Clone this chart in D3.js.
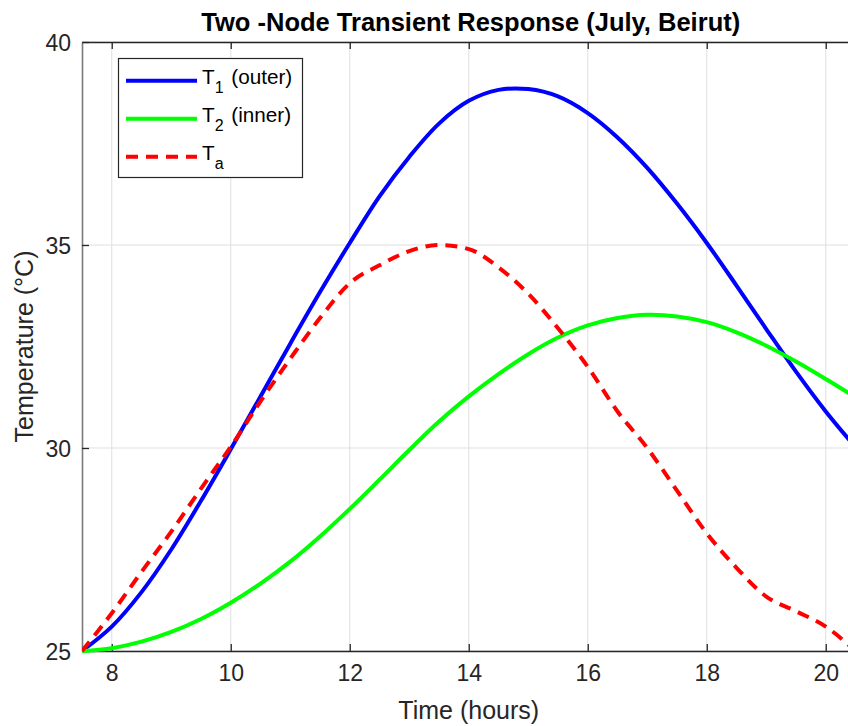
<!DOCTYPE html>
<html>
<head>
<meta charset="utf-8">
<script src="https://cdnjs.cloudflare.com/ajax/libs/d3/7.8.5/d3.min.js"></script>
<style>
  body { margin: 0; background: #fff; }
  svg { display: block; font-family: "Liberation Sans", Arial, sans-serif; }
</style>
</head>
<body>
<div id="root"></div>
<script>
// time axis (hours)
const hours = [7.5, 8, 8.5, 9, 9.5, 10, 10.5, 11, 11.5, 12, 12.5, 13, 13.5, 14,
  14.5, 15, 15.5, 16, 16.5, 17, 17.5, 18, 18.5, 19, 19.5, 20, 20.5];

// outer node temperature T1
const t1 = [25.0, 25.6, 26.45, 27.5, 28.7, 29.97, 31.27, 32.57, 33.84, 35.05, 36.2,
  37.17, 37.99, 38.55, 38.82, 38.84, 38.66, 38.25, 37.65, 36.9, 36.02, 35.05, 34.0,
  32.93, 31.88, 30.9, 30.02];

// inner node temperature T2
const t2 = [25.0, 25.07, 25.23, 25.47, 25.79, 26.19, 26.66, 27.2, 27.82, 28.5,
  29.22, 29.95, 30.65, 31.27, 31.82, 32.31, 32.72, 33.02, 33.2, 33.28, 33.24, 33.1,
  32.85, 32.52, 32.13, 31.7, 31.25];

// ambient temperature Ta
const ta = [25.0, 25.93, 26.95, 27.94, 29.0, 30.03, 31.15, 32.2, 33.2, 34.06, 34.5,
  34.85, 35.0, 34.9, 34.45, 33.8, 32.95, 32.0, 30.9, 30.0, 28.95, 27.9, 27.05, 26.34,
  25.98, 25.6, 25.0];

const xTicks = [8, 10, 12, 14, 16, 18, 20];
const yTicks = [25, 30, 35, 40];

// set the dimensions of the axes box
const W = 848, H = 726;
const box = { left: 82, top: 42, right: 855.5, bottom: 651 };
const ink = "#262626";

const x = d3.scaleLinear().domain([7.5, 20.5]).range([box.left, box.right]);
const y = d3.scaleLinear().domain([25, 40]).range([box.bottom, box.top]);

const svg = d3.select("#root").append("svg")
  .attr("width", W)
  .attr("height", H);

svg.append("defs").append("clipPath").attr("id", "plot")
  .append("rect")
  .attr("x", box.left).attr("y", box.top - 3)
  .attr("width", box.right - box.left).attr("height", box.bottom - box.top + 6);

// grid lines
const grid = svg.append("g").attr("stroke", "#dfdfdf").attr("stroke-width", 1);
grid.selectAll(".gx").data(xTicks).join("line")
  .attr("x1", (d) => x(d)).attr("x2", (d) => x(d))
  .attr("y1", box.top).attr("y2", box.bottom);
grid.selectAll(".gy").data(yTicks).join("line")
  .attr("x1", box.left).attr("x2", box.right)
  .attr("y1", (d) => y(d)).attr("y2", (d) => y(d));

// axes (inside ticks on all four sides, like matlab's box)
const axB = svg.append("g")
  .attr("transform", "translate(0," + box.bottom + ")")
  .call(d3.axisBottom(x).tickValues(xTicks).tickSizeInner(-7).tickSizeOuter(0).tickPadding(14));
const axT = svg.append("g")
  .attr("transform", "translate(0," + box.top + ")")
  .call(d3.axisTop(x).tickValues(xTicks).tickSizeInner(-7).tickSizeOuter(0).tickFormat(""));
const axL = svg.append("g")
  .attr("transform", "translate(" + box.left + ",0)")
  .call(d3.axisLeft(y).tickValues(yTicks).tickSizeInner(-7).tickSizeOuter(0).tickPadding(11));
const axR = svg.append("g")
  .attr("transform", "translate(" + box.right + ",0)")
  .call(d3.axisRight(y).tickValues(yTicks).tickSizeInner(-7).tickSizeOuter(0).tickFormat(""));

[axB, axT, axL, axR].forEach((a) => {
  a.select(".domain").attr("stroke", ink).attr("stroke-width", 1.3);
  a.selectAll(".tick line").attr("stroke", ink).attr("stroke-width", 1.3);
  a.selectAll(".tick text").attr("fill", ink).attr("font-size", 23)
    .attr("font-family", "Liberation Sans, Arial, sans-serif");
});
axL.select(".domain").attr("stroke", "#7a7a7a").attr("stroke-width", 1.6);
axB.selectAll(".tick text").attr("dy", "0.71em");
axL.selectAll(".tick text").attr("dy", "0.36em");

// series lines
const lineGen = (curve) => d3.line()
  .x((d, i) => x(hours[i]))
  .y((d) => y(d))
  .curve(curve);

const series = [
  { name: "T1", vals: t1, color: "#0000ff", dash: null, curve: d3.curveCatmullRom },
  { name: "T2", vals: t2, color: "#00ff00", dash: null, curve: d3.curveCatmullRom },
  { name: "Ta", vals: ta, color: "#ff0000", dash: "12,8", curve: d3.curveMonotoneX },
];

const plot = svg.append("g").attr("clip-path", "url(#plot)");
series.forEach((s) => {
  plot.append("path")
    .datum(s.vals)
    .attr("fill", "none")
    .attr("stroke", s.color)
    .attr("stroke-width", 4)
    .attr("stroke-dasharray", s.dash)
    .attr("d", lineGen(s.curve));
});

// title and axis labels
svg.append("text")
  .attr("x", (box.left + box.right) / 2 + 2).attr("y", 30.5)
  .attr("text-anchor", "middle")
  .attr("font-size", 25.5).attr("font-weight", "bold").attr("fill", "#000")
  .text("Two -Node Transient Response (July, Beirut)");

svg.append("text")
  .attr("x", (box.left + box.right) / 2).attr("y", 719)
  .attr("text-anchor", "middle")
  .attr("font-size", 25).attr("fill", ink)
  .text("Time (hours)");

svg.append("text")
  .attr("transform", "translate(33," + (box.top + box.bottom) / 2 + ") rotate(-90)")
  .attr("text-anchor", "middle")
  .attr("font-size", 25).attr("fill", ink)
  .text("Temperature (°C)");

// legend
const legendItems = [
  { main: "T", sub: "1", rest: " (outer)", color: "#0000ff", dash: null },
  { main: "T", sub: "2", rest: " (inner)", color: "#00ff00", dash: null },
  { main: "T", sub: "a", rest: "", color: "#ff0000", dash: "12,8" },
];

const legend = svg.append("g");
legend.append("rect")
  .attr("x", 118.5).attr("y", 58.5)
  .attr("width", 184).attr("height", 119)
  .attr("fill", "#fff").attr("stroke", ink).attr("stroke-width", 1.2);

legendItems.forEach((d, i) => {
  const ly = 80.7 + i * 38;
  legend.append("line")
    .attr("x1", 126).attr("x2", 197)
    .attr("y1", ly).attr("y2", ly)
    .attr("stroke", d.color).attr("stroke-width", 4)
    .attr("stroke-dasharray", d.dash);
  const t = legend.append("text")
    .attr("x", 202).attr("y", ly + 3.5)
    .attr("font-size", 20.7).attr("fill", "#000");
  t.append("tspan").text(d.main);
  t.append("tspan").attr("font-size", 16).attr("dy", 9).attr("dx", 0).text(d.sub);
  if (d.rest) t.append("tspan").attr("dy", -9).attr("dx", 2).text(d.rest);
});
</script>
</body>
</html>
